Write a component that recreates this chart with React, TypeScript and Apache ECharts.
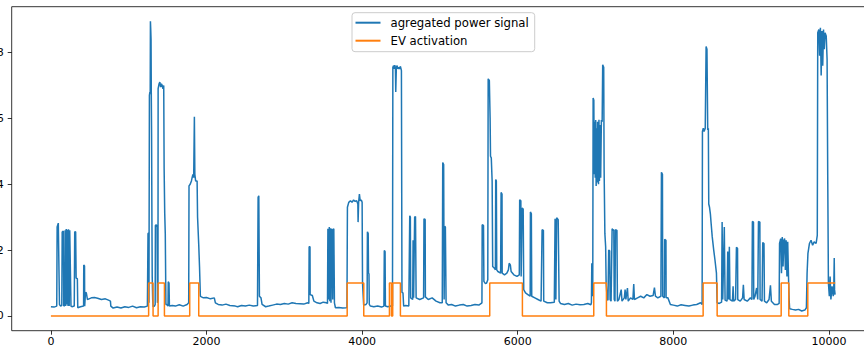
import React, { useEffect, useRef } from "react";
import * as echarts from "echarts";

const xTicks = [0, 2000, 4000, 6000, 8000, 10000];
const yTicks = [0, 2, 4, 6, 8];

const evOn = [1256, 1378, 1784, 3808, 4351, 4393, 5640, 6977, 8383, 9386, 9728];
const evOff = [1313, 1459, 1900, 4021, 4377, 4492, 6060, 7140, 8563, 9484, 10080];

const powerSignal: [number, number][] = [
  [0, 0.28], [40, 0.27], [75, 0.3], [80, 2.7], [95, 2.82], [110, 0.35], [125, 0.3], [140, 0.32],
  [145, 2.55], [160, 2.58], [165, 0.3], [180, 0.33], [183, 2.6], [190, 0.3], [197, 2.64], [205, 0.35],
  [212, 2.62], [220, 0.3], [226, 2.63], [235, 0.3], [242, 2.6], [250, 2.6], [258, 0.3], [270, 0.28],
  [300, 0.3], [306, 2.55], [318, 2.56], [324, 1.15], [340, 1.13], [345, 0.25], [380, 0.28], [420, 0.3],
  [422, 1.55], [432, 1.52], [434, 0.3], [445, 0.72], [455, 0.7], [470, 0.5], [490, 0.52], [520, 0.55],
  [560, 0.56], [600, 0.54], [650, 0.5], [700, 0.52], [740, 0.48], [765, 0.45], [770, 0.3], [800, 0.24],
  [850, 0.27], [900, 0.24], [950, 0.28], [1000, 0.26], [1050, 0.3], [1100, 0.25], [1150, 0.28],
  [1200, 0.27], [1240, 0.3],
  [1244, 0.3], [1248, 2.5], [1256, 2.52], [1260, 0.4], [1266, 6.7], [1272, 6.8], [1276, 6.75],
  [1279, 8.95], [1283, 8.7], [1287, 8.4], [1290, 6.8], [1294, 5.5], [1298, 3.0], [1302, 1.2],
  [1308, 0.5], [1314, 0.28], [1330, 0.3], [1340, 0.35], [1343, 2.75], [1355, 2.77], [1365, 2.7],
  [1369, 0.4], [1376, 0.5], [1378, 6.9], [1390, 7.05], [1400, 7.1], [1410, 6.95], [1420, 7.05],
  [1430, 7.0], [1440, 6.9], [1450, 7.0], [1455, 4.5], [1463, 3.1], [1470, 2.5], [1478, 0.35],
  [1490, 0.35], [1505, 0.3], [1508, 1.04], [1518, 1.0], [1523, 0.3], [1560, 0.32], [1600, 0.3],
  [1650, 0.34], [1700, 0.3], [1750, 0.35], [1771, 0.4], [1775, 3.95], [1790, 4.0], [1806, 4.1],
  [1815, 4.2], [1825, 4.3], [1835, 4.2], [1844, 6.05], [1850, 4.3], [1860, 4.1], [1879, 4.1],
  [1885, 3.0], [1900, 2.16], [1910, 1.5], [1921, 0.6], [1934, 0.58], [1960, 0.55], [2000, 0.56],
  [2050, 0.52], [2100, 0.55], [2114, 0.4], [2150, 0.35], [2200, 0.33], [2250, 0.36], [2300, 0.32],
  [2371, 0.3],
  [2400, 0.28], [2450, 0.32], [2500, 0.3], [2550, 0.33], [2600, 0.3], [2655, 0.32], [2663, 3.6],
  [2672, 3.65], [2680, 0.6], [2700, 0.55], [2714, 0.35], [2760, 0.28], [2800, 0.3], [2850, 0.33],
  [2900, 0.36], [2950, 0.35], [3000, 0.38], [3050, 0.36], [3100, 0.4], [3150, 0.38], [3200, 0.37],
  [3250, 0.36], [3300, 0.4], [3315, 0.38], [3319, 2.1], [3330, 2.1], [3332, 0.65], [3360, 0.62],
  [3380, 0.45], [3420, 0.4], [3460, 0.38], [3500, 0.42], [3540, 0.4], [3555, 0.38], [3560, 2.65],
  [3570, 0.5], [3578, 2.7], [3585, 0.45], [3592, 2.66], [3600, 0.4], [3606, 2.65], [3614, 2.6],
  [3622, 0.5], [3628, 2.62], [3636, 2.65], [3644, 0.4], [3657, 0.25], [3700, 0.26], [3750, 0.24],
  [3795, 0.25],
  [3805, 0.26], [3811, 3.3], [3828, 3.45], [3850, 3.5], [3870, 3.45], [3890, 3.52], [3910, 3.48],
  [3930, 3.5], [3945, 3.4], [3948, 2.85], [3955, 3.45], [3965, 3.7], [3975, 3.5], [3990, 3.52],
  [4000, 3.45], [4005, 1.0], [4020, 0.33], [4050, 0.35], [4064, 0.4], [4068, 2.56], [4078, 2.5],
  [4082, 1.3], [4088, 1.28], [4092, 0.35], [4106, 0.3], [4150, 0.28], [4200, 0.3], [4250, 0.27],
  [4280, 0.3], [4285, 1.99], [4295, 1.95], [4299, 0.3], [4330, 0.28], [4370, 0.3], [4390, 0.3],
  [4395, 7.55], [4405, 7.6], [4415, 7.5], [4420, 7.62], [4428, 7.5], [4432, 6.8], [4440, 7.55],
  [4450, 7.6], [4460, 7.5], [4470, 7.55], [4480, 7.5], [4492, 7.58], [4500, 7.5], [4505, 7.45],
  [4512, 0.72], [4525, 0.7], [4534, 0.3], [4560, 0.32], [4600, 0.3], [4612, 3.04], [4620, 3.0],
  [4624, 0.55], [4650, 0.5], [4655, 2.3], [4662, 0.55], [4675, 3.0], [4686, 3.02], [4694, 0.55],
  [4740, 0.5], [4790, 0.55], [4795, 2.95], [4810, 2.93], [4813, 0.58], [4850, 0.5], [4900, 0.55],
  [4950, 0.45], [5000, 0.4], [5030, 0.4], [5036, 4.66], [5048, 4.6], [5054, 0.5], [5061, 2.72],
  [5070, 2.7], [5079, 0.4], [5109, 0.33], [5150, 0.35], [5200, 0.3], [5250, 0.33], [5300, 0.35],
  [5350, 0.3], [5400, 0.32], [5450, 0.35], [5500, 0.33], [5540, 0.4], [5543, 2.77], [5560, 2.75],
  [5565, 1.05], [5585, 0.98], [5600, 1.0], [5615, 1.1], [5620, 7.2], [5635, 7.15], [5645, 6.0],
  [5650, 4.85], [5660, 4.8], [5671, 4.1], [5678, 1.5], [5700, 1.45], [5713, 1.4], [5717, 4.14],
  [5725, 4.1], [5730, 1.4], [5745, 1.35], [5780, 1.3], [5786, 3.75], [5798, 3.7], [5800, 1.3],
  [5830, 1.25], [5860, 1.3], [5880, 1.4], [5890, 1.6], [5905, 1.55], [5915, 1.35], [5950, 1.25],
  [5990, 1.2], [6020, 1.25], [6025, 3.53], [6040, 3.5], [6044, 1.2], [6050, 1.2], [6056, 3.28],
  [6070, 3.25], [6077, 0.8], [6100, 0.7], [6130, 0.65], [6160, 0.6], [6163, 3.16], [6175, 3.1],
  [6180, 0.6], [6220, 0.55], [6260, 0.5], [6300, 0.45], [6313, 2.62], [6330, 2.6], [6334, 0.45],
  [6380, 0.4], [6420, 0.4], [6470, 0.42], [6480, 2.95], [6490, 0.5], [6500, 2.98], [6520, 2.92],
  [6532, 0.45], [6549, 0.38], [6600, 0.35], [6650, 0.38], [6700, 0.33], [6750, 0.36], [6800, 0.34],
  [6850, 0.35], [6900, 0.38], [6940, 0.34], [6947, 0.4], [6952, 1.6], [6960, 1.55], [6964, 0.6],
  [6969, 6.62], [6978, 6.55], [6983, 4.3], [6990, 5.9], [6996, 4.2], [7002, 5.95], [7008, 3.95],
  [7014, 5.7], [7020, 4.05], [7026, 5.9], [7032, 4.3], [7038, 4.0], [7044, 5.96], [7050, 4.1],
  [7058, 5.8], [7066, 4.2], [7075, 5.95], [7085, 5.9], [7092, 7.63], [7105, 7.55], [7110, 4.5],
  [7120, 2.5], [7130, 2.1], [7136, 1.0], [7150, 0.5], [7160, 0.48], [7169, 2.0], [7182, 1.98],
  [7187, 0.5], [7200, 0.45], [7213, 2.65], [7225, 2.6], [7235, 2.62], [7240, 0.5], [7250, 0.45],
  [7256, 2.62], [7275, 2.6], [7281, 0.45], [7300, 0.5], [7330, 0.8], [7340, 0.45], [7370, 0.55],
  [7380, 0.8], [7390, 0.5], [7410, 0.85], [7420, 0.45], [7450, 0.55], [7480, 0.5], [7491, 0.97],
  [7500, 0.5], [7540, 0.55], [7580, 0.6], [7620, 0.55], [7660, 0.65], [7700, 0.6], [7740, 0.62],
  [7757, 0.86], [7770, 0.6], [7800, 0.55], [7840, 0.6], [7847, 4.36], [7860, 4.3], [7863, 0.6],
  [7885, 0.55], [7889, 2.33], [7905, 2.3], [7907, 0.55], [7930, 0.55], [7962, 0.35], [8000, 0.33],
  [8050, 0.3], [8100, 0.34], [8150, 0.32], [8200, 0.3], [8250, 0.33], [8300, 0.35], [8350, 0.4],
  [8370, 0.35], [8374, 5.6], [8385, 5.7], [8395, 5.6], [8410, 5.7], [8421, 8.18], [8432, 8.1],
  [8442, 5.65], [8450, 5.7], [8455, 3.4], [8465, 3.3], [8476, 3.1], [8486, 2.8], [8500, 2.4],
  [8519, 2.0], [8535, 1.7], [8554, 1.3], [8563, 0.4], [8590, 0.38], [8620, 0.42], [8627, 2.85],
  [8635, 0.5], [8655, 2.7], [8665, 0.48], [8690, 0.45], [8699, 1.96], [8710, 0.5], [8720, 2.1],
  [8728, 0.5], [8760, 0.45], [8768, 0.9], [8775, 0.45], [8800, 0.5], [8811, 2.09], [8825, 2.05],
  [8828, 0.5], [8860, 0.45], [8890, 0.55], [8900, 0.95], [8910, 0.5], [8950, 0.45], [8990, 0.55],
  [9010, 0.5], [9016, 2.87], [9030, 2.85], [9033, 0.5], [9050, 0.6], [9070, 0.85], [9085, 0.5],
  [9094, 2.87], [9112, 2.85], [9115, 0.5], [9140, 0.45], [9149, 2.23], [9165, 2.2], [9171, 0.45],
  [9200, 0.4], [9230, 0.5], [9248, 0.93], [9260, 0.45], [9300, 0.35], [9340, 0.35], [9360, 0.38],
  [9365, 2.2], [9380, 2.35], [9390, 1.3], [9400, 2.4], [9410, 1.5], [9420, 2.3], [9430, 2.35],
  [9440, 1.4], [9450, 2.3], [9460, 1.2], [9470, 2.25], [9480, 1.2], [9488, 0.5], [9495, 0.22],
  [9530, 0.2], [9570, 0.18], [9610, 0.2], [9650, 0.15], [9690, 0.18], [9710, 0.25], [9719, 1.3],
  [9730, 1.9], [9749, 2.2], [9770, 2.3], [9790, 2.15], [9810, 2.25], [9835, 2.2], [9850, 2.45],
  [9856, 8.6], [9870, 8.7], [9880, 7.9], [9890, 8.75], [9900, 7.3], [9910, 8.65], [9920, 7.6],
  [9930, 8.7], [9940, 8.1], [9950, 8.6], [9965, 8.5], [9976, 7.8], [9985, 4.0], [9993, 1.0],
  [10005, 0.6], [10015, 1.2], [10025, 0.5], [10040, 0.9], [10055, 0.6], [10061, 0.7], [10068, 1.76],
  [10072, 0.8], [10079, 0.65],
];

function buildActivation(): [number, number][] {
  const pts: [number, number][] = [[0, 0]];
  evOn.forEach((on, i) => {
    const off = evOff[i];
    pts.push([on, 0], [on, 1], [off, 1]);
    if (i < evOn.length - 1) pts.push([off, 0]);
  });
  return pts;
}

const FONT = "DejaVu Sans";

export default function App() {
  const ref = useRef<HTMLDivElement>(null);
  useEffect(() => {
    if (!ref.current) return;
    const chart = echarts.init(ref.current, undefined, { renderer: "svg" });
    chart.setOption({
      animation: false,
      backgroundColor: "#ffffff",
      grid: {
        left: 31.7,
        right: 25.3,
        top: 6.7,
        bottom: 20.3,
        show: true,
        borderColor: "#000000",
        borderWidth: 0.8,
        backgroundColor: "transparent",
      },
      legend: {
        orient: "vertical",
        left: 372,
        top: 12.7,
        padding: [3, 6, 4, 3.5],
        itemGap: 4,
        itemWidth: 25,
        itemHeight: 2,
        icon: "rect",
        backgroundColor: "rgba(255,255,255,0.8)",
        borderColor: "#cccccc",
        borderWidth: 1,
        borderRadius: 3,
        textStyle: {
          fontFamily: FONT,
          fontSize: 11.7,
          color: "#000000",
          lineHeight: 14,
          padding: [0, 0, 0, 5],
        },
        data: ["agregated power signal", "EV activation"],
      },
      xAxis: {
        type: "value",
        min: -504,
        max: 10588,
        axisLine: { show: false, onZero: false },
        splitLine: { show: false },
        axisTick: {
          show: true,
          length: 4,
          customValues: xTicks,
          lineStyle: { color: "#000000", width: 0.8 },
        },
        axisLabel: {
          show: true,
          customValues: xTicks,
          formatter: (v: number) => String(v),
          margin: 5,
          fontFamily: FONT,
          fontSize: 11,
          color: "#000000",
        },
      },
      yAxis: {
        type: "value",
        min: -0.447,
        max: 9.39,
        axisLine: { show: false, onZero: false },
        splitLine: { show: false },
        axisTick: {
          show: true,
          length: 4,
          customValues: yTicks,
          lineStyle: { color: "#000000", width: 0.8 },
        },
        axisLabel: {
          show: true,
          customValues: yTicks,
          formatter: (v: number) => String(v),
          margin: 8,
          fontFamily: FONT,
          fontSize: 11,
          color: "#000000",
        },
      },
      series: [
        {
          name: "agregated power signal",
          type: "line",
          data: powerSignal,
          showSymbol: false,
          symbol: "none",
          silent: true,
          color: "#1f77b4",
          lineStyle: { color: "#1f77b4", width: 1.5 },
        },
        {
          name: "EV activation",
          type: "line",
          data: buildActivation(),
          showSymbol: false,
          symbol: "none",
          silent: true,
          color: "#ff7f0e",
          lineStyle: { color: "#ff7f0e", width: 1.5 },
        },
      ],
    });
    return () => chart.dispose();
  }, []);
  return (
    <div
      style={{
        position: "fixed",
        left: 0,
        top: 0,
        width: 864,
        height: 351,
        overflow: "hidden",
        background: "#ffffff",
      }}
    >
      <div
        ref={ref}
        style={{ position: "absolute", left: -20, top: 0, width: 920, height: 351 }}
      />
    </div>
  );
}
